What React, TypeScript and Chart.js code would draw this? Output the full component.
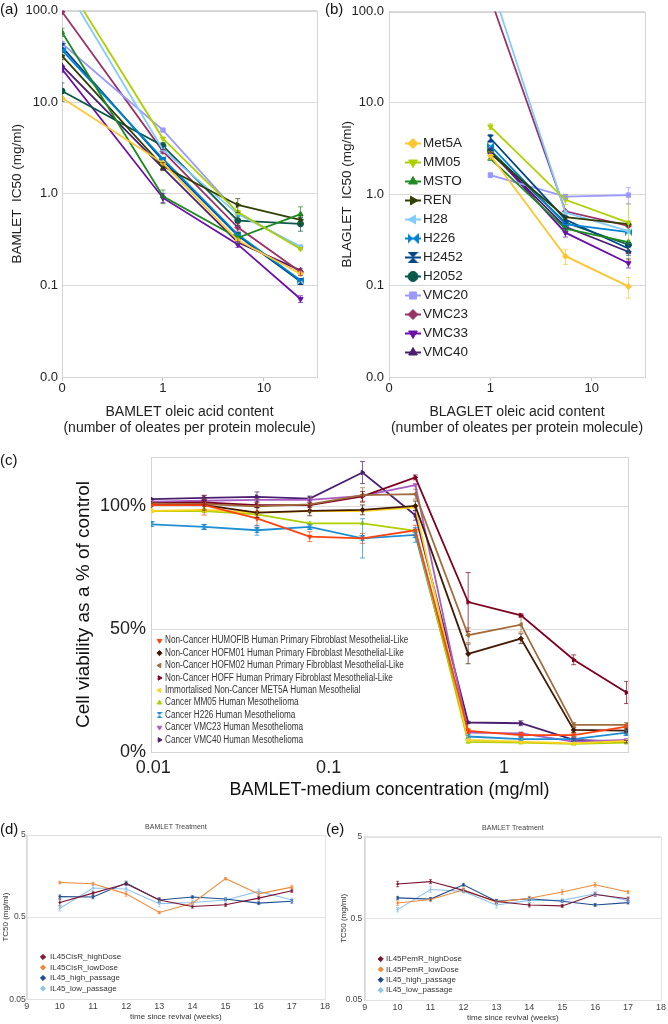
import React, { useEffect, useRef } from "react";
import { Chart, registerables } from "chart.js";
import { drawPoint } from "chart.js/helpers";

Chart.register(...registerables);

const SANS = "'Liberation Sans', Arial, Helvetica, sans-serif";
Chart.defaults.font.family = SANS;
Chart.defaults.color = "#333";

/* ================= (a) & (b): IC50 vs oleate content ================= */
const abCellLines = ["Met5A", "MM05", "MSTO", "REN", "H28", "H226", "H2452", "H2052", "VMC20", "VMC23", "VMC33", "VMC40"];
// oleates per protein molecule; the "0" sample sits on the axis origin (0.1 on the log axis)
const oleatePositions = [0.1, 1, 5.5, 23];
const abXTickValues = [0.1, 1, 10];
const abXTickLabels = ["0", "1", "10"];
const abYTickValues = [0.01, 0.1, 1, 10, 100];

// BAMLET IC50 (mg/ml)
const bamletMet5A = [11.1, 2.16, 0.31, 0.134];
const bamletMM05 = [240, 4.0, 0.63, 0.25];
const bamletMSTO = [58, 0.94, 0.33, 0.6];
const bamletREN = [32, 1.99, 0.755, 0.52];
const bamletH28 = [210, 3.0, 0.6, 0.265];
const bamletH226 = [37, 2.4, 0.36, 0.114];
const bamletH2452 = [40, 2.3, 0.35, 0.11];
const bamletH2052 = [13.2, 3.33, 0.51, 0.47];
const bamletVMC20 = [43.7, 4.96, 0.62, 0.26];
const bamletVMC23 = [97, 2.9, 0.43, 0.14];
const bamletVMC33 = [23, 0.9, 0.28, 0.071];
const bamletVMC40 = [25, 1.9, 0.295, 0.146];

const bamletErrMSTO = [6, 0.16, 0.04, 0.12];
const bamletErrREN = [3, 0.2, 0.13, 0.05];
const bamletErrH2052 = [3, 0.3, 0.06, 0.08];
const bamletErrVMC23 = [6, 0.15, 0.04, 0.012];
const bamletErrVMC33 = [2, 0.1, 0.02, 0.006];

// BLAGLET IC50 (mg/ml)
const blagletMet5A = [null, 2.66, 0.21, 0.098];
const blagletMM05 = [null, 5.5, 0.87, 0.49];
const blagletMSTO = [null, 2.45, 0.42, 0.3];
const blagletREN = [null, 2.78, 0.56, 0.47];
const blagletH28 = [null, 210, 0.63, 0.395];
const blagletH226 = [null, 3.4, 0.47, 0.385];
const blagletH2452 = [null, 4.1, 0.53, 0.255];
const blagletH2052 = [null, 3.0, 0.49, 0.28];
const blagletVMC20 = [null, 1.62, 0.94, 0.98];
const blagletVMC23 = [null, 140, 0.65, 0.45];
const blagletVMC33 = [null, 3.0, 0.38, 0.176];
const blagletVMC40 = [null, 2.9, 0.44, 0.235];

const blagletErrMet5A = [null, 0.25, 0.04, 0.025];
const blagletErrMM05 = [null, 0.4, 0.1, 0.3];
const blagletErrH2452 = [null, 0.4, 0.05, 0.04];
const blagletErrVMC20 = [null, 0.1, 0.06, 0.2];
const blagletErrVMC33 = [null, 0.2, 0.04, 0.02];

/* ================= (c): viability vs BAMLET concentration ================= */
const cLabels = [
  "Non-Cancer HUMOFIB Human Primary Fibroblast Mesothelial-Like",
  "Non-Cancer HOFM01 Human Primary Fibroblast Mesothelial-Like",
  "Non-Cancer HOFM02 Human Primary Fibroblast Mesothelial-Like",
  "Non-Cancer HOFF Human Primary Fibroblast Mesothelial-Like",
  "Immortalised Non-Cancer MET5A Human Mesothelial",
  "Cancer MM05 Human Mesothelioma",
  "Cancer H226 Human Mesothelioma",
  "Cancer VMC23 Human Mesothelioma",
  "Cancer VMC40 Human Mesothelioma",
];
const cConcentrations = [0.00977, 0.0195, 0.039, 0.078, 0.156, 0.3125, 0.625, 1.25, 2.5, 5];
const cXTickValues = [0.01, 0.1, 1];
const cXTickLabels = ["0.01", "0.1", "1"];
const cYTickValues = [0, 50, 100];

const viabHUMOFIB = [100.4, 100.4, 95, 87.6, 86.9, 90.2, 8.6, 6.9, 6.9, 10.3];
const viabHOFM01 = [100.4, 100.4, 97.4, 98.1, 98.5, 100.1, 39.9, 46.1, 9, 8.7];
const viabHOFM02 = [101, 100.8, 99.9, 100.7, 104.5, 104.9, 47.5, 51.8, 11, 11];
const viabHOFF = [101.2, 101.5, 100.4, 100.4, 104, 111.7, 61, 55.6, 37.5, 24.2];
const viabMET5A = [98.1, 98.5, 97.4, 98, 98, 99.5, 4.9, 4.2, 3.5, 4.5];
const viabMM05 = [98, 98, 96.7, 93, 93, 90, 4.1, 3.8, 3.3, 3.8];
const viabH226 = [92.6, 91.6, 90.2, 91.6, 86.9, 88.3, 6.3, 5.2, 5.2, 7.9];
const viabVMC23 = [101.8, 102.2, 102.6, 102.6, 104.2, 108.6, 7.9, 7.6, 4.2, 4.9];
const viabVMC40 = [102.9, 103.4, 103.8, 103.1, 113.7, 96.3, 12, 11.7, 4.9, 4.2];

const viabErrHUMOFIB = [0, 4, 3, 2, 2, 2, 1, 1, 1, 1];
const viabErrHOFM01 = [0, 2, 2, 2, 2, 2, 4, 2, 1, 1];
const viabErrHOFM02 = [0, 2, 3, 3, 3, 2, 3, 3, 1, 1];
const viabErrHOFF = [0, 1, 1, 1, 2, 1, 12, 0.6, 2, 4.5];
const viabErrH226 = [0, 1, 2, 1, 8, 3, 0.5, 0.5, 0.5, 1];
const viabErrVMC40 = [0, 1, 2, 1, 4.5, 2, 0.5, 1, 0.5, 0.5];

/* ================= (d) & (e): TC50 over time ================= */
const weeks = [10, 11, 12, 13, 14, 15, 16, 17];
const deYTickValues = [0.05, 0.5, 5];
const deYTickLabels = ["0.05", "0.5", "5"];

const dLabels = ["IL45CisR_highDose", "IL45CisR_lowDose", "IL45_high_passage", "IL45_low_passage"];
const dCisRHigh = [0.755, 0.98, 1.275, 0.81, 0.675, 0.707, 0.853, 1.05];
const dCisRLow = [1.32, 1.275, 0.96, 0.57, 0.74, 1.47, 0.96, 1.16];
const dHighPassage = [0.89, 0.88, 1.3, 0.81, 0.88, 0.83, 0.74, 0.78];
const dLowPassage = [0.643, 1.13, 1.1, 0.73, 0.755, 0.81, 1.03, 0.81];
const dErrCisRHigh = [0.07, 0.05, 0.05, 0.04, 0.03, 0.03, 0.04, 0.05];
const dErrCisRLow = [0.05, 0.06, 0.06, 0.02, 0.03, 0.05, 0.05, 0.06];
const dErrHighPassage = [0.04, 0.04, 0.07, 0.05, 0.03, 0.03, 0.03, 0.04];
const dErrLowPassage = [0.05, 0.09, 0.06, 0.06, 0.05, 0.04, 0.07, 0.04];

const eLabels = ["IL45PemR_highDose", "IL45PemR_lowDose", "IL45_high_passage", "IL45_low_passage"];
const ePemRHigh = [1.32, 1.41, 1.1, 0.805, 0.73, 0.71, 0.98, 0.87];
const ePemRLow = [0.77, 0.85, 1.12, 0.79, 0.88, 1.05, 1.29, 1.05];
const eHighPassage = [0.89, 0.86, 1.29, 0.81, 0.87, 0.81, 0.73, 0.78];
const eLowPassage = [0.64, 1.13, 1.07, 0.73, 0.83, 0.83, 1.0, 0.83];
const eErrPemRHigh = [0.1, 0.08, 0.05, 0.04, 0.04, 0.03, 0.05, 0.04];
const eErrPemRLow = [0.05, 0.04, 0.06, 0.04, 0.05, 0.07, 0.08, 0.04];
const eErrHighPassage = [0.04, 0.04, 0.05, 0.04, 0.04, 0.03, 0.03, 0.03];
const eErrLowPassage = [0.04, 0.09, 0.05, 0.06, 0.05, 0.04, 0.06, 0.04];

/* ================= styles ================= */
const abColors = ["#fdc52f", "#aecf00", "#1f8a22", "#314004", "#83caff", "#0084d1", "#004586", "#08594a", "#9999ff", "#993366", "#6a10a8", "#4b1f6f"];
const cColors = ["#ff420e", "#431a04", "#a06c3c", "#7e0021", "#ffd320", "#aecf00", "#1f8fd4", "#a85ec4", "#4b1f6f"];
const deColors = ["#7b1533", "#f08a3a", "#1f4e8c", "#8fc4ef"];

function bowtie(color: string, vertical: boolean, s: number): HTMLCanvasElement {
  const c = document.createElement("canvas");
  c.width = s;
  c.height = s;
  const g = c.getContext("2d")!;
  g.fillStyle = color;
  g.beginPath();
  if (vertical) {
    g.moveTo(0, 0); g.lineTo(s, 0); g.lineTo(s / 2, s / 2); g.closePath();
    g.moveTo(0, s); g.lineTo(s, s); g.lineTo(s / 2, s / 2); g.closePath();
  } else {
    g.moveTo(0, 0); g.lineTo(0, s); g.lineTo(s / 2, s / 2); g.closePath();
    g.moveTo(s, 0); g.lineTo(s, s); g.lineTo(s / 2, s / 2); g.closePath();
  }
  g.fill();
  return c;
}

function abMarker(i: number, big: boolean): { ps: any; rot: number } {
  const s = big ? 11 : 7;
  switch (i) {
    case 0: return { ps: "rectRot", rot: 0 };
    case 1: return { ps: "triangle", rot: 180 };
    case 2: return { ps: "triangle", rot: 0 };
    case 3: return { ps: "triangle", rot: 90 };
    case 4: return { ps: "triangle", rot: 270 };
    case 5: return { ps: bowtie(abColors[5], false, s), rot: 0 };
    case 6: return { ps: bowtie(abColors[6], true, s), rot: 0 };
    case 7: return { ps: "circle", rot: 0 };
    case 8: return { ps: "rect", rot: 0 };
    case 9: return { ps: "rectRot", rot: 0 };
    case 10: return { ps: "triangle", rot: 180 };
    default: return { ps: "triangle", rot: 0 };
  }
}

function cMarker(i: number): { ps: any; rot: number } {
  switch (i) {
    case 0: return { ps: "triangle", rot: 180 };
    case 1: return { ps: "rectRot", rot: 0 };
    case 2: return { ps: "triangle", rot: 270 };
    case 3: return { ps: "triangle", rot: 90 };
    case 4: return { ps: "triangle", rot: 270 };
    case 5: return { ps: "triangle", rot: 0 };
    case 6: return { ps: bowtie(cColors[6], true, 6), rot: 0 };
    case 7: return { ps: "triangle", rot: 180 };
    default: return { ps: "triangle", rot: 90 };
  }
}

/* ================= plugins ================= */
const plotBox = {
  id: "plotBox",
  beforeDatasetsDraw(chart: any, _a: any, o: any) {
    if (!o || !o.color) return;
    const { ctx, chartArea: a } = chart;
    ctx.save();
    ctx.strokeStyle = o.color;
    ctx.lineWidth = 1;
    const l = Math.round(a.left) + 0.5;
    const t = Math.round(a.top) + 0.5;
    ctx.strokeRect(l, t, Math.round(a.right) - Math.round(a.left), Math.round(a.bottom) - Math.round(a.top));
    ctx.restore();
  },
};

const errorBars = {
  id: "errorBars",
  afterDatasetsDraw(chart: any) {
    const { ctx, chartArea: a } = chart;
    const ys = chart.scales.y;
    ctx.save();
    ctx.beginPath();
    ctx.rect(a.left, a.top, a.right - a.left, a.bottom - a.top);
    ctx.clip();
    chart.data.datasets.forEach((ds: any, i: number) => {
      if (!ds.errors) return;
      const meta = chart.getDatasetMeta(i);
      ctx.strokeStyle = ds.borderColor;
      ctx.globalAlpha = 0.7;
      ctx.lineWidth = 1;
      const cap = ds.errorCap || 2.5;
      meta.data.forEach((pt: any, j: number) => {
        const e = ds.errors[j];
        const d = ds.data[j];
        const v = d ? d.y : null;
        if (e == null || v == null || !e) return;
        const lo = Math.max(v - e, ys.min);
        const y1 = ys.getPixelForValue(v + e);
        const y2 = ys.getPixelForValue(lo);
        const x = pt.x;
        ctx.beginPath();
        ctx.moveTo(x, y1); ctx.lineTo(x, y2);
        ctx.moveTo(x - cap, y1); ctx.lineTo(x + cap, y1);
        ctx.moveTo(x - cap, y2); ctx.lineTo(x + cap, y2);
        ctx.stroke();
      });
    });
    ctx.restore();
  },
};

const insetLegend = {
  id: "insetLegend",
  afterDraw(chart: any, _a: any, o: any) {
    if (!o || o.x == null) return;
    const ctx = chart.ctx;
    ctx.save();
    ctx.font = `${o.size}px ${o.family}`;
    ctx.textBaseline = "middle";
    ctx.textAlign = "left";
    chart.data.datasets.forEach((ds: any, i: number) => {
      const y = o.y + i * o.rowH;
      ctx.strokeStyle = ds.borderColor;
      ctx.fillStyle = ds.borderColor;
      if (o.lineLen) {
        ctx.lineWidth = o.lineW;
        ctx.beginPath();
        ctx.moveTo(o.x - o.lineLen / 2, y);
        ctx.lineTo(o.x + o.lineLen / 2, y);
        ctx.stroke();
      }
      ctx.lineWidth = 1;
      const ps = o.pointStyle || ds.legendPointStyle || ds.pointStyle;
      const rot = o.pointStyle ? 0 : ds.pointRotation || 0;
      drawPoint(ctx, { pointStyle: ps, rotation: rot, radius: o.radius, borderWidth: 1 }, o.x, y);
      ctx.fillStyle = o.color;
      const sx = o.sx || 1;
      ctx.save();
      ctx.translate(o.textX, y);
      ctx.scale(sx, 1);
      ctx.fillText(ds.label, 0, 0);
      ctx.restore();
    });
    ctx.restore();
  },
};

const caption = {
  id: "caption",
  afterDraw(chart: any, _a: any, o: any) {
    if (!o || !o.text) return;
    const { ctx, chartArea: a } = chart;
    ctx.save();
    ctx.font = `${o.size}px ${SANS}`;
    ctx.fillStyle = o.color;
    ctx.textAlign = "center";
    ctx.textBaseline = "middle";
    ctx.fillText(o.text, (a.left + a.right) / 2 + (o.dx || 0), o.y);
    ctx.restore();
  },
};

const basePlugins = { legend: { display: false }, tooltip: { enabled: false } };

/* ================= configs ================= */
function abConfig(isA: boolean): any {
  const series = isA
    ? [bamletMet5A, bamletMM05, bamletMSTO, bamletREN, bamletH28, bamletH226, bamletH2452, bamletH2052, bamletVMC20, bamletVMC23, bamletVMC33, bamletVMC40]
    : [blagletMet5A, blagletMM05, blagletMSTO, blagletREN, blagletH28, blagletH226, blagletH2452, blagletH2052, blagletVMC20, blagletVMC23, blagletVMC33, blagletVMC40];
  const errs: any[] = isA
    ? [null, null, bamletErrMSTO, bamletErrREN, null, null, null, bamletErrH2052, null, bamletErrVMC23, bamletErrVMC33, null]
    : [blagletErrMet5A, blagletErrMM05, null, null, null, null, blagletErrH2452, null, blagletErrVMC20, null, blagletErrVMC33, null];
  const name = isA ? "BAMLET" : "BLAGLET";
  const datasets = series.map((vals, i) => {
    const m = abMarker(i, false);
    const lm = abMarker(i, true);
    return {
      label: abCellLines[i],
      data: oleatePositions.map((x, j) => ({ x, y: vals[j] })),
      borderColor: abColors[i],
      backgroundColor: abColors[i],
      pointBackgroundColor: abColors[i],
      pointBorderColor: abColors[i],
      borderWidth: 1.8,
      pointRadius: 3,
      pointBorderWidth: 1,
      pointStyle: m.ps,
      pointRotation: m.rot,
      legendPointStyle: lm.ps,
      tension: 0,
      errors: errs[i],
    };
  });
  return {
    type: "line",
    data: { datasets },
    options: {
      responsive: false,
      animation: false,
      devicePixelRatio: 1,
      events: [],
      layout: { padding: { top: 6, right: isA ? 17 : 23, left: 0, bottom: 0 } },
      plugins: {
        ...basePlugins,
        plotBox: { color: "#d4d4d4" },
        insetLegend: isA
          ? {}
          : { x: 79, textX: 89, y: 143.5, rowH: 19, size: 13.5, family: SANS, color: "#222", lineLen: 16, lineW: 2, radius: 5 },
      },
      scales: {
        x: {
          type: "logarithmic",
          min: 0.1,
          max: 33.5,
          afterBuildTicks: (s: any) => { s.ticks = abXTickValues.map((v) => ({ value: v })); },
          afterFit: (s: any) => { s.height = 63; },
          ticks: { callback: (_v: any, i: number) => abXTickLabels[i], font: { size: 13, lineHeight: 1.2 }, color: "#222", padding: 0, maxRotation: 0, autoSkip: false },
          grid: { display: true, drawOnChartArea: false, drawTicks: true, tickLength: 4, color: "#c4c4c4" },
          border: { display: true, color: "#c4c4c4" },
          title: {
            display: true,
            text: [`${name} oleic acid content`, "(number of oleates per protein molecule)"],
            font: { size: 14, lineHeight: 1.2 },
            color: "#222",
            padding: { top: 0, bottom: 3 },
          },
        },
        y: {
          type: "logarithmic",
          min: 0.01,
          max: 100,
          afterBuildTicks: (s: any) => { s.ticks = abYTickValues.map((v) => ({ value: v })); },
          afterFit: (s: any) => { s.width = isA ? 62 : 55; },
          ticks: { callback: (v: any) => Number(v).toFixed(1), font: { size: 13, lineHeight: 1 }, color: "#222", padding: isA ? 4 : 5, autoSkip: false },
          grid: { color: "#d9d9d9", drawTicks: false },
          border: { display: true, color: "#c4c4c4" },
          title: { display: true, text: `${name}  IC50 (mg/ml)`, font: { size: 13.5, lineHeight: 1.2 }, color: "#222", padding: { top: isA ? 9 : 5, bottom: 0 } },
        },
      },
    },
    plugins: [plotBox, errorBars, insetLegend],
  };
}

function configA() { return abConfig(true); }
function configB() { return abConfig(false); }

function configC(): any {
  const series = [viabHUMOFIB, viabHOFM01, viabHOFM02, viabHOFF, viabMET5A, viabMM05, viabH226, viabVMC23, viabVMC40];
  const errs: any[] = [viabErrHUMOFIB, viabErrHOFM01, viabErrHOFM02, viabErrHOFF, null, null, viabErrH226, null, viabErrVMC40];
  const datasets = series.map((vals, i) => {
    const m = cMarker(i);
    return {
      label: cLabels[i],
      data: cConcentrations.map((x, j) => ({ x, y: vals[j] })),
      borderColor: cColors[i],
      backgroundColor: cColors[i],
      pointBackgroundColor: cColors[i],
      pointBorderColor: cColors[i],
      borderWidth: 1.8,
      pointRadius: 2.5,
      pointBorderWidth: 1,
      pointStyle: m.ps,
      pointRotation: m.rot,
      tension: 0,
      errors: errs[i],
      errorCap: 2.5,
    };
  });
  return {
    type: "line",
    data: { datasets },
    options: {
      responsive: false,
      animation: false,
      devicePixelRatio: 1,
      events: [],
      layout: { padding: { top: 17, right: 40, left: 0, bottom: 0 } },
      plugins: {
        ...basePlugins,
        plotBox: { color: "#d4d4d4" },
        insetLegend: { x: 159.5, textX: 165, y: 200.7, rowH: 12.4, size: 10, family: SANS, color: "#333", lineLen: 0, radius: 2.6, sx: 0.82 },
      },
      scales: {
        x: {
          type: "logarithmic",
          min: 0.0097,
          max: 5.1,
          afterBuildTicks: (s: any) => { s.ticks = cXTickValues.map((v) => ({ value: v })); },
          afterFit: (s: any) => { s.height = 53; },
          ticks: { callback: (_v: any, i: number) => cXTickLabels[i], font: { size: 18, lineHeight: 1.2 }, color: "#222", padding: 5, maxRotation: 0, autoSkip: false },
          grid: { display: true, drawOnChartArea: false, drawTicks: false },
          border: { display: true, color: "#c4c4c4" },
          title: { display: true, text: "BAMLET-medium concentration (mg/ml)", font: { size: 18, lineHeight: 1.2 }, color: "#111", padding: { top: 0, bottom: 4 } },
        },
        y: {
          type: "linear",
          min: 0,
          max: 120,
          afterBuildTicks: (s: any) => { s.ticks = cYTickValues.map((v) => ({ value: v })); },
          afterFit: (s: any) => { s.width = 151; },
          ticks: { callback: (v: any) => `${v}%`, font: { size: 18, lineHeight: 1.2 }, color: "#222", padding: 5, autoSkip: false },
          grid: { color: "#d9d9d9", drawTicks: false },
          border: { display: true, color: "#c4c4c4" },
          title: { display: true, text: "Cell viability as a % of control", font: { size: 19, lineHeight: 1.2 }, color: "#111", padding: { top: 72, bottom: 0 } },
        },
      },
    },
    plugins: [plotBox, errorBars, insetLegend],
  };
}

function deConfig(isD: boolean): any {
  const series = isD ? [dCisRHigh, dCisRLow, dHighPassage, dLowPassage] : [ePemRHigh, ePemRLow, eHighPassage, eLowPassage];
  const errs = isD
    ? [dErrCisRHigh, dErrCisRLow, dErrHighPassage, dErrLowPassage]
    : [eErrPemRHigh, eErrPemRLow, eErrHighPassage, eErrLowPassage];
  const labels = isD ? dLabels : eLabels;
  const datasets = series.map((vals, i) => ({
    label: labels[i],
    data: weeks.map((x, j) => ({ x, y: vals[j] })),
    borderColor: deColors[i],
    backgroundColor: deColors[i],
    pointBackgroundColor: deColors[i],
    pointBorderColor: deColors[i],
    borderWidth: 1.1,
    pointRadius: 1.3,
    pointBorderWidth: 0.5,
    pointStyle: "rectRot",
    tension: 0,
    errors: errs[i],
    errorCap: 1.5,
  }));
  return {
    type: "line",
    data: { datasets },
    options: {
      responsive: false,
      animation: false,
      devicePixelRatio: 1,
      events: [],
      layout: { padding: { top: isD ? 30 : 31.7, right: isD ? 9 : 6, left: 0, bottom: 0 } },
      plugins: {
        ...basePlugins,
        plotBox: { color: "#e2e2e2" },
        caption: { text: "BAMLET Treatment", size: 7, color: "#444", y: isD ? 21.7 : 23 },
        insetLegend: isD
          ? { x: 43, textX: 50, y: 152, rowH: 10.5, size: 8, family: SANS, color: "#333", lineLen: 0, radius: 2.6, pointStyle: "rectRot" }
          : { x: 46.7, textX: 52, y: 154, rowH: 10.4, size: 8, family: SANS, color: "#333", lineLen: 0, radius: 2.6, pointStyle: "rectRot" },
      },
      scales: {
        x: {
          type: "linear",
          min: 9,
          max: 18,
          ticks: { stepSize: 1, font: { size: 9, lineHeight: 1.2 }, color: "#444", padding: 2, maxRotation: 0, autoSkip: false },
          afterFit: (s: any) => { s.height = isD ? 24.7 : 24; },
          grid: { display: false, drawTicks: false },
          border: { display: true, color: "#d8d8d8" },
          title: { display: true, text: "time since revival (weeks)", font: { size: 8, lineHeight: 1.2 }, color: "#333", padding: { top: 0, bottom: isD ? 2.2 : 1.2 } },
        },
        y: {
          type: "logarithmic",
          min: 0.05,
          max: 5,
          afterBuildTicks: (s: any) => { s.ticks = deYTickValues.map((v) => ({ value: v })); },
          afterFit: (s: any) => { s.width = isD ? 26.7 : 30.7; },
          ticks: { callback: (_v: any, i: number) => deYTickLabels[i], font: { size: 8.5, lineHeight: 1 }, color: "#444", padding: isD ? 1 : 2.4, autoSkip: false },
          grid: { color: "#e4e4e4", drawTicks: false },
          border: { display: true, color: "#d8d8d8" },
          title: { display: true, text: "TC50 (mg/ml)", font: { size: 8, lineHeight: 1.2 }, color: "#333", padding: { top: isD ? 1.2 : 5, bottom: 0 } },
        },
      },
    },
    plugins: [plotBox, errorBars, insetLegend, caption],
  };
}

function configD() { return deConfig(true); }
function configE() { return deConfig(false); }

/* ================= components ================= */
function Panel({ left, top, width, height, make }: { left: number; top: number; width: number; height: number; make: () => any }) {
  const ref = useRef<HTMLCanvasElement | null>(null);
  useEffect(() => {
    if (!ref.current) return;
    const chart = new Chart(ref.current, make());
    return () => chart.destroy();
  }, [make]);
  return (
    <canvas
      ref={ref}
      width={width}
      height={height}
      style={{ position: "absolute", left, top, width, height, display: "block" }}
    />
  );
}

function PanelLabel({ text, left, top, size }: { text: string; left: number; top: number; size: number }) {
  return (
    <div style={{ position: "absolute", left, top, fontSize: size, lineHeight: `${size + 2}px`, fontFamily: SANS, color: "#111" }}>
      {text}
    </div>
  );
}

export default function App() {
  return (
    <div style={{ position: "absolute", left: 0, top: 0, width: 668, height: 1024, background: "#fff", overflow: "hidden" }}>
      <Panel left={0} top={0} width={334} height={440} make={configA} />
      <Panel left={334} top={0} width={334} height={440} make={configB} />
      <Panel left={0} top={440} width={668} height={365} make={configC} />
      <Panel left={0} top={805} width={334} height={219} make={configD} />
      <Panel left={334} top={805} width={334} height={219} make={configE} />
      <PanelLabel text="(a)" left={0} top={0} size={15} />
      <PanelLabel text="(b)" left={325} top={0} size={15} />
      <PanelLabel text="(c)" left={0} top={451} size={15} />
      <PanelLabel text="(d)" left={0} top={820} size={15} />
      <PanelLabel text="(e)" left={326} top={820} size={15} />
    </div>
  );
}
